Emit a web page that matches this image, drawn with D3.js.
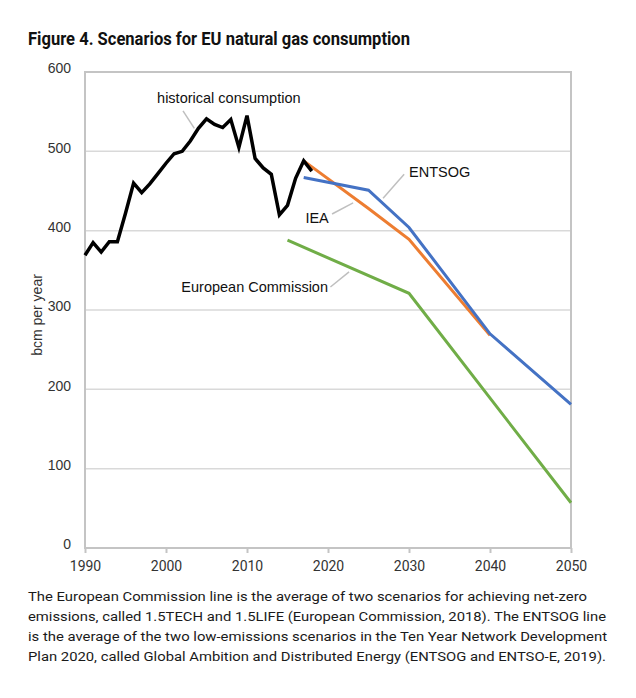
<!DOCTYPE html>
<html>
<head>
<meta charset="utf-8">
<script src="https://cdn.jsdelivr.net/npm/d3@7"></script>
<style>
  body { margin: 0; background: #fff; }
</style>
</head>
<body>
<svg id="chart" width="636" height="698"></svg>
<script>
// historical EU gas consumption, bcm
const histYears = d3.range(1990, 2019);
const histValues = [369, 385, 373, 386, 386, 422, 460, 448, 459, 472, 485, 497, 500, 513,
  529, 541, 534, 530, 540, 505, 545, 491, 479, 471, 420, 432, 466, 488, 475];

// scenarios
const ieaYears = [2017, 2025, 2030, 2040];
const ieaValues = [488, 428, 389, 268];
const entsogYears = [2017, 2025, 2030, 2040, 2050];
const entsogValues = [467, 451, 404, 270, 181];
const ecYears = [2015, 2030, 2050];
const ecValues = [388, 321, 57];

const xTicks = [1990, 2000, 2010, 2020, 2030, 2040, 2050];
const yTicks = [0, 100, 200, 300, 400, 500, 600];

const captionLines = [
  "The European Commission line is the average of two scenarios for achieving net-zero",
  "emissions, called 1.5TECH and 1.5LIFE (European Commission, 2018). The ENTSOG line",
  "is the average of the two low-emissions scenarios in the Ten Year Network Development",
  "Plan 2020, called Global Ambition and Distributed Energy (ENTSOG and ENTSO-E, 2019)."
];
const captionWidths = [559, 578, 579, 578];

const svg = d3.select("#chart");
const margin = { top: 72, right: 65, bottom: 150, left: 85 };
const width = 636 - margin.left - margin.right;
const height = 698 - margin.top - margin.bottom;

const x = d3.scaleLinear().domain([1990, 2050]).range([0, width]);
const y = d3.scaleLinear().domain([0, 600]).range([height, 0]);

// title
svg.append("text")
  .attr("x", 28).attr("y", 45)
  .attr("font-family", "Roboto, sans-serif")
  .attr("font-weight", "bold")
  .attr("font-size", 18)
  .attr("fill", "#111")
  .attr("textLength", 382)
  .attr("lengthAdjust", "spacingAndGlyphs")
  .text("Figure 4. Scenarios for EU natural gas consumption");

const g = svg.append("g")
  .attr("transform", `translate(${margin.left},${margin.top})`);

// gridlines
g.append("g")
  .selectAll("line")
  .data(yTicks.filter(d => d > 0 && d < 600))
  .join("line")
    .attr("x1", 0).attr("x2", width)
    .attr("y1", d => y(d)).attr("y2", d => y(d))
    .attr("stroke", "#d9d9d9").attr("stroke-width", 1.5);

// frame
g.append("rect")
  .attr("width", width).attr("height", height)
  .attr("fill", "none").attr("stroke", "#c4c4c4").attr("stroke-width", 2);

// x axis
const xAxis = g.append("g")
  .attr("transform", `translate(0,${height})`)
  .call(d3.axisBottom(x).tickValues(xTicks).tickFormat(d3.format("d")).tickSize(5).tickPadding(8));
xAxis.select(".domain").remove();
xAxis.selectAll("line").attr("stroke", "#c4c4c4").attr("stroke-width", 2);
xAxis.selectAll("text")
  .attr("font-family", "Roboto, sans-serif").attr("font-size", 14).attr("fill", "#333");

// y axis
const yAxis = g.append("g")
  .call(d3.axisLeft(y).tickValues(yTicks).tickSize(0).tickPadding(14));
yAxis.select(".domain").remove();
yAxis.selectAll("text")
  .attr("font-family", "'Liberation Sans', Arial, sans-serif").attr("font-size", 14).attr("fill", "#333")
  .attr("dy", "0.05em");

svg.append("text")
  .attr("transform", "rotate(-90)")
  .attr("x", -315).attr("y", 42)
  .attr("text-anchor", "middle")
  .attr("font-family", "'Liberation Sans', Arial, sans-serif").attr("font-size", 14).attr("fill", "#333")
  .text("bcm per year");

const line = d3.line().x(d => x(d[0])).y(d => y(d[1]));

const series = [
  { years: ecYears, values: ecValues, color: "#70ad47", w: 3 },
  { years: ieaYears, values: ieaValues, color: "#ed7d31", w: 3 },
  { years: entsogYears, values: entsogValues, color: "#4472c4", w: 3 },
  { years: histYears, values: histValues, color: "#000", w: 3.5 }
];

g.selectAll(".series")
  .data(series)
  .join("path")
    .attr("class", "series")
    .attr("fill", "none")
    .attr("stroke", d => d.color)
    .attr("stroke-width", d => d.w)
    .attr("stroke-linejoin", "miter")
    .attr("d", d => line(d.years.map((yr, i) => [yr, d.values[i]])));

// annotations: label + leader line (in data coords)
const labels = [
  { text: "historical consumption", lx: 1998.9, ly: 566, anchor: "start", from: [2002.1, 551], to: [2003.5, 529] },
  { text: "ENTSOG", lx: 2030.0, ly: 473, anchor: "start", from: [2029.4, 471], to: [2026.8, 441] },
  { text: "IEA", lx: 2020.1, ly: 415, anchor: "end", from: [2020.5, 421], to: [2023.1, 435] },
  { text: "European Commission", lx: 2020.0, ly: 328, anchor: "end", from: [2020.3, 329], to: [2022.6, 348] }
];

g.selectAll(".leader")
  .data(labels)
  .join("line")
    .attr("class", "leader")
    .attr("x1", d => x(d.from[0])).attr("y1", d => y(d.from[1]))
    .attr("x2", d => x(d.to[0])).attr("y2", d => y(d.to[1]))
    .attr("stroke", "#bfbfbf").attr("stroke-width", 1.5);

g.selectAll(".label")
  .data(labels)
  .join("text")
    .attr("class", "label")
    .attr("x", d => x(d.lx)).attr("y", d => y(d.ly))
    .attr("text-anchor", d => d.anchor)
    .attr("dominant-baseline", "middle")
    .attr("font-family", "'Liberation Sans', Arial, sans-serif")
    .attr("font-size", 14.5)
    .attr("fill", "#111")
    .text(d => d.text);

// caption
svg.append("g")
  .selectAll("text")
  .data(captionLines)
  .join("text")
    .attr("x", 28)
    .attr("y", (d, i) => 601 + i * 20)
    .attr("font-family", "Roboto, sans-serif")
    .attr("font-size", 13.6)
    .attr("fill", "#1a1a1a")
    .attr("textLength", (d, i) => captionWidths[i])
    .attr("lengthAdjust", "spacingAndGlyphs")
    .text(d => d);
</script>
</body>
</html>
